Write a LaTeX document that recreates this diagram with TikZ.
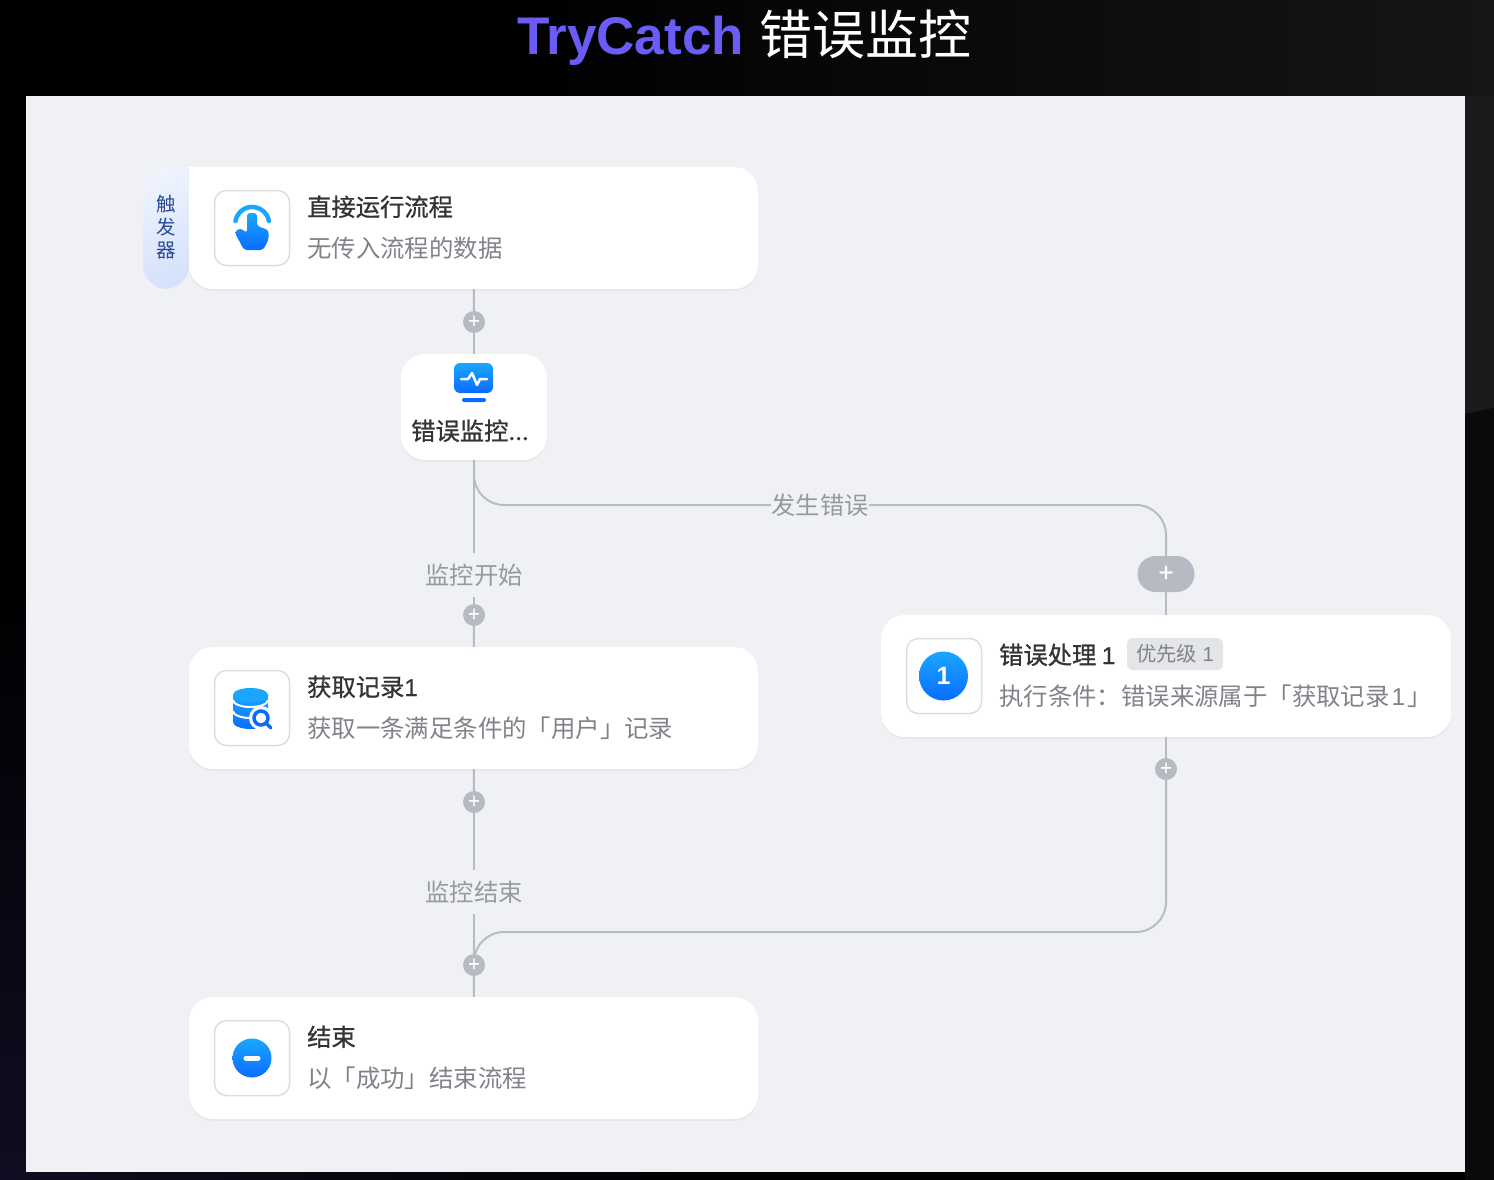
\documentclass[tikz,border=0pt]{standalone}
\usepackage{fontspec}
\usepackage{xcolor}
\usetikzlibrary{positioning, backgrounds, calc, shadows}
\setmainfont{Noto Sans CJK SC}
\newfontfamily\mediumfont[FakeBold=0.9]{Noto Sans CJK SC}
\newfontfamily\titlefont{Liberation Sans}
\newfontfamily\digitfont[FakeBold=0.6]{Liberation Sans}
\definecolor{panelGray}{RGB}{240,241,244}
\definecolor{edgeNavy}{RGB}{17,13,34}
\definecolor{edgeGray}{RGB}{27,27,27}
\definecolor{bandGray}{RGB}{22,22,22}
\definecolor{lowGray}{RGB}{10,10,10}
\definecolor{titlePurple}{RGB}{106,92,245}
\definecolor{lineGray}{RGB}{184,188,194}
\definecolor{dotGray}{RGB}{181,186,195}
\definecolor{inkDark}{RGB}{51,52,56}
\definecolor{inkSoft}{RGB}{128,131,137}
\definecolor{inkLabel}{RGB}{150,153,159}
\definecolor{iconLight}{RGB}{26,166,255}
\definecolor{iconDeep}{RGB}{10,108,255}
\definecolor{tabLight}{RGB}{238,243,253}
\definecolor{tabDeep}{RGB}{214,226,251}
\definecolor{tabInk}{RGB}{43,74,150}
\definecolor{badgeGray}{RGB}{228,229,232}
\newcommand{\digit}[1]{{\titlefont #1}}

\begin{document}
\begin{tikzpicture}[
    x=1pt, y=-1pt,
    softshadow/.style={drop shadow={shadow xshift=0pt, shadow yshift=-2pt, opacity=0.04, fill=black}},
    card/.style={rectangle, fill=white, rounded corners=24pt, minimum height=122pt, inner sep=0pt, softshadow},
    iconbox/.style={rectangle, draw=black!13, line width=1.5pt, fill=white, rounded corners=12pt, minimum size=75pt, inner sep=0pt},
    cardtitle/.style={font=\mediumfont\fontsize{24.3}{24}\selectfont, text=inkDark, inner sep=0pt, text height=21pt, text depth=3pt, anchor=west},
    cardsub/.style={font=\fontsize{24.4}{24}\selectfont, text=inkSoft, inner sep=0pt, text height=21pt, text depth=3pt, anchor=west},
    flow/.style={draw=lineGray, line width=2pt},
    flowlabel/.style={fill=panelGray, font=\fontsize{24.3}{24}\selectfont, text=inkLabel, inner xsep=0pt, inner ysep=0pt, text height=30.5pt, text depth=12.5pt},
    plusdot/.style={circle, fill=dotGray, minimum size=22pt, inner sep=0pt, text=white, font=\mediumfont\fontsize{20}{20}\selectfont},
    iconfill/.style={top color=iconLight, bottom color=iconDeep, draw=none}
]
\useasboundingbox (0,0) rectangle (1494,1180);

% Panel
\begin{scope}[on background layer]
    \fill[black] (0,0) rectangle (1494,1180);
    \shade[left color=black, right color=bandGray] (500,0) rectangle (1494,96);
    \fill[edgeGray] (1465,96) -- (1494,96) -- (1494,408) -- (1465,414) -- cycle;
    \fill[lowGray] (1465,414) -- (1494,408) -- (1494,1180) -- (1465,1180) -- cycle;
    \shade[top color=black, bottom color=edgeNavy] (0,570) rectangle (26,1180);
    \shade[left color=edgeNavy, right color=black] (0,1172) rectangle (700,1180);
    \fill[panelGray] (26,96) rectangle (1465,1172);
\end{scope}
\node[font=\fontsize{53}{53}\selectfont, text=white, inner sep=0pt] (heading) at (744.5,38) {{\titlefont\bfseries\color{titlePurple}TryCatch}\hspace{4pt} 错误监控};

% Trigger card
\shade[top color=tabLight, bottom color=tabDeep, shading angle=25, rounded corners=24pt] (189,167) -- (143,167) -- (143,289) -- (189,289) [sharp corners] -- cycle;
\fill[softshadow, white, rounded corners=24pt] (189,167) -- (758,167) -- (758,289) -- (189,289) [sharp corners] -- cycle;
\node[minimum width=569pt, minimum height=122pt, inner sep=0pt] (trigger) at (473.5,228) {};
\node[font=\fontsize{19.5}{23}\selectfont, text=tabInk, align=center, inner sep=0pt] (tabtext) at (166,227) {触\\发\\器};
\node[iconbox, right=25pt of trigger.west] (handbox) {};
\node[cardtitle] (handtitle) at (307,207) {直接运行流程};
\node[cardsub, below=41pt of handtitle.west, anchor=west] (handsub) {无传入流程的数据};

% Monitor
\node[card, minimum width=146pt, minimum height=106pt] (monitor) at (474,407) {};
\node[font=\mediumfont\fontsize{24.3}{24}\selectfont, text=inkDark, inner sep=0pt, text height=21pt, text depth=3pt] (monitortext) at (470,431) {错误监控...};

% Work cards
\node[card, minimum width=569pt] (fetch) at (473.5,708) {};
\node[iconbox, right=25pt of fetch.west] (fetchbox) {};
\node[cardtitle] (fetchtitle) at (307,687) {获取记录{\digitfont 1}};
\node[cardsub, below=41pt of fetchtitle.west, anchor=west] (fetchsub) {获取一条满足条件的「用户」记录};

\node[card, minimum width=569pt] (finish) at (473.5,1058) {};
\node[iconbox, right=25pt of finish.west] (finishbox) {};
\node[cardtitle] (finishtitle) at (307,1037) {结束};
\node[cardsub, below=41pt of finishtitle.west, anchor=west] (finishsub) {以「成功」结束流程};

\node[card, minimum width=570pt] (handler) at (1166,676) {};
\node[iconbox, right=25pt of handler.west] (handlerbox) {};
\node[cardtitle] (handlertitle) at (999,655) {错误处理 {\digitfont 1}};
\node[rectangle, fill=badgeGray, rounded corners=6pt, minimum width=96pt, minimum height=32pt, inner sep=0pt, font=\fontsize{20.3}{20}\selectfont, text=inkSoft] (priority) at (1175,654) {优先级\hspace{1pt} \digit{1}};
\node[cardsub, below=41pt of handlertitle.west, anchor=west] (handlersub) {执行条件：错误来源属于「获取记录\hspace{2pt}\digit{1}\hspace{2pt}」};

% Add buttons
\node[plusdot] (addone) at (474,322) {+};
\node[plusdot] (addtwo) at (474,615) {+};
\node[plusdot] (addthree) at (474,802) {+};
\node[plusdot] (addfour) at (474,965) {+};
\node[plusdot] (addfive) at (1166,769) {+};
\node[rectangle, rounded corners=18pt, fill=dotGray, minimum width=57pt, minimum height=36pt, inner sep=0pt, text=white, font=\mediumfont\fontsize{26}{26}\selectfont] (addcase) at (1166,574) {+};

% Labels
\node[flowlabel] (startlabel) at (474,575) {监控开始};
\node[flowlabel] (endlabel) at (474,892) {监控结束};
\node[flowlabel] (errorlabel) at (820,505) {发生错误};

% Connectors
\coordinate (branchtop) at (1166,505);
\coordinate (mergeright) at (1166,932);
\coordinate (mergeleft) at (474,932);
\begin{scope}[on background layer]
    \draw[flow] (trigger) -- (addone);
    \draw[flow] (addone) -- (monitor);
    \draw[flow] (monitor) -- (startlabel);
    \draw[flow] (startlabel) -- (addtwo);
    \draw[flow] (addtwo) -- (fetch);
    \draw[flow] (fetch) -- (addthree);
    \draw[flow] (addthree) -- (endlabel);
    \draw[flow] (endlabel) -- (addfour);
    \draw[flow] (addfour) -- (finish);
    \draw[flow, rounded corners=30pt] (monitor.south) |- (branchtop) -- (addcase.north);
    \draw[flow] (addcase) -- (handler);
    \draw[flow] (handler) -- (addfive);
    \draw[flow, rounded corners=30pt] (addfive) -- (mergeright) -- (mergeleft) -- (addfour);
\end{scope}

% Hand icon
\draw[draw=iconLight, line width=4.5pt, line cap=round] (235.5,221) arc[start angle=170, end angle=10, radius=17pt];
\fill[white] (252,222) circle[radius=9pt];
\shade[iconfill, rounded corners=3pt] (247,213) -- (247,233) -- (240,228) -- (234.5,232) -- (244,250) -- (263,250) -- (268.5,240) -- (268.5,230) -- (257,226) -- (257,213) -- cycle;

% Monitor icon
\shade[iconfill, rounded corners=6pt] (454,363) rectangle (493,393);
\draw[white, line width=2.5pt, line join=round, line cap=round] (461,379) -- (468,379) -- (472,373) -- (477,385) -- (480,379) -- (487,379);
\fill[iconDeep, rounded corners=2pt] (462,398) rectangle (486,402);

% Database icon
\shade[iconfill] (233,694) -- (233,722) arc[start angle=180, end angle=360, x radius=17.5pt, y radius=7pt] -- (268,694) -- cycle;
\fill[iconLight] (250.5,695) ellipse[x radius=17.5pt, y radius=7pt];
\draw[white, line width=2pt] (233,700) arc[start angle=180, end angle=360, x radius=17.5pt, y radius=7pt];
\draw[white, line width=2pt] (233,711) arc[start angle=180, end angle=360, x radius=17.5pt, y radius=7pt];
\fill[white] (261,718) circle[radius=12pt];
\draw[iconDeep, line width=3.5pt] (261,718) circle[radius=7pt];
\draw[iconDeep, line width=3.5pt, line cap=round] (266.5,723.5) -- (271,728);

% Number and stop icons
\node[circle, iconfill, minimum size=49pt, inner sep=0pt, text=white, font=\titlefont\bfseries\fontsize{25}{25}\selectfont] (numberone) at (943.5,676) {1};
\node[circle, iconfill, minimum size=39pt, inner sep=0pt] (stopsign) at (252,1058) {};
\draw[white, line width=5pt, line cap=round] ($(stopsign)+(-6,0)$) -- ($(stopsign)+(6,0)$);
\end{tikzpicture}
\end{document}
